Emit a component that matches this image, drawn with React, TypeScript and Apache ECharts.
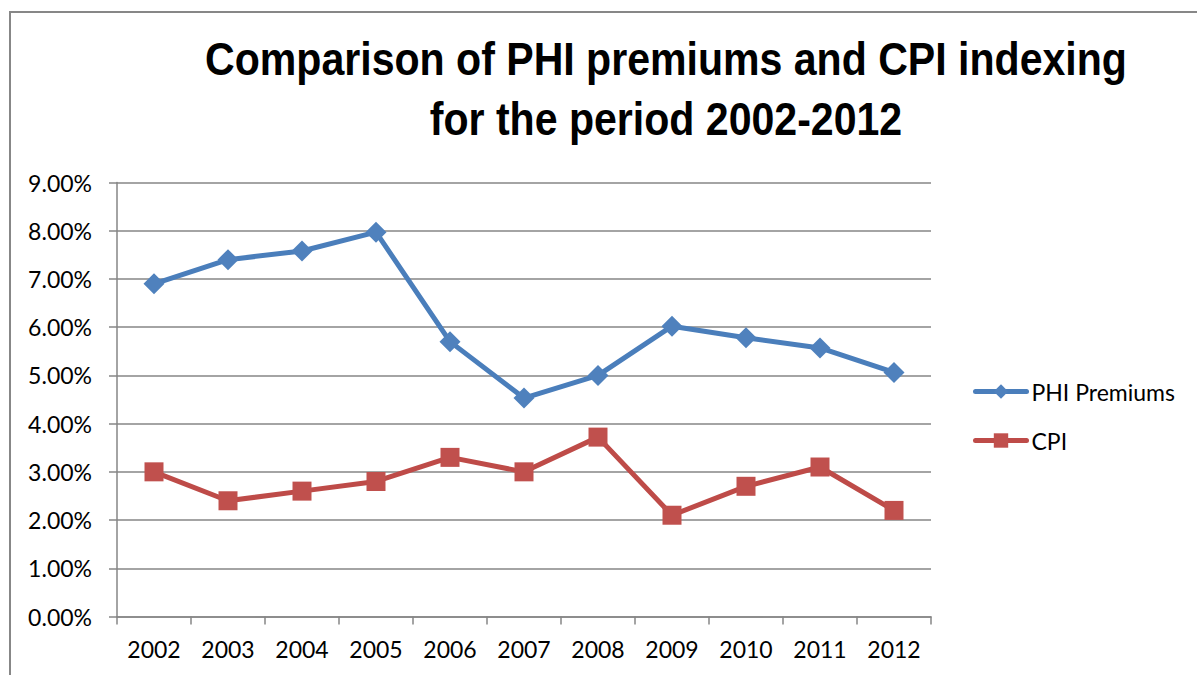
import React, { useEffect, useRef } from "react";
import * as echarts from "echarts";

const years = ["2002", "2003", "2004", "2005", "2006", "2007", "2008", "2009", "2010", "2011", "2012"];
const phiPremiums = [6.9, 7.4, 7.58, 7.97, 5.7, 4.53, 5.0, 6.02, 5.78, 5.57, 5.06];
const cpi = [3.0, 2.4, 2.6, 2.8, 3.3, 3.0, 3.72, 2.1, 2.7, 3.1, 2.2];
const titleLines = ["Comparison of PHI premiums and CPI indexing", "for the period 2002-2012"];

const BLUE = "#4A7EBB";
const RED = "#BE4B48";
const GRID_GRAY = "#868686";
const LABEL_FONT = "Lato, 'Open Sans', sans-serif";
const TITLE_FONT_FAMILY = "'Liberation Sans', Arial, sans-serif";
const TITLE_SIZE = 46;
const TITLE_WIDTH = 922; // rendered width of the first title line

// A narrow bold face is not installed, so the regular bold face is squeezed horizontally.
function titleSqueeze(): number {
  const ctx = document.createElement("canvas").getContext("2d");
  if (!ctx) return 0.82;
  ctx.font = `bold ${TITLE_SIZE}px ${TITLE_FONT_FAMILY}`;
  const w = ctx.measureText(titleLines[0]).width;
  return w > 0 ? TITLE_WIDTH / w : 0.82;
}

export default function App() {
  const ref = useRef<HTMLDivElement>(null);

  useEffect(() => {
    if (!ref.current) return;
    const chart = echarts.init(ref.current, undefined, { renderer: "svg" });
    const sx = titleSqueeze();
    chart.setOption({
      animation: false,
      backgroundColor: "#ffffff",
      graphic: [
        {
          type: "rect",
          shape: { x: 10, y: 12, width: 1300, height: 800 },
          style: { fill: "none", stroke: "#878787", lineWidth: 2 },
          silent: true,
        },
        {
          type: "text",
          x: 666,
          y: 29,
          scaleX: sx,
          style: {
            text: titleLines.join("\n"),
            textAlign: "center",
            textVerticalAlign: "top",
            fontFamily: TITLE_FONT_FAMILY,
            fontWeight: "bold",
            fontSize: TITLE_SIZE,
            lineHeight: 60,
            fill: "#000000",
          },
        },
      ],
      legend: {
        orient: "vertical",
        left: 973,
        top: 380,
        padding: 0,
        itemWidth: 51,
        itemHeight: 18,
        itemGap: 26,
        lineStyle: { width: 5, cap: "round" },
        textStyle: { fontFamily: LABEL_FONT, fontSize: 23, color: "#000000" },
        data: ["PHI Premiums", "CPI"],
      },
      grid: { left: 117, right: 266, top: 182.5, bottom: 58.5, containLabel: false },
      xAxis: {
        type: "category",
        data: years,
        boundaryGap: true,
        axisLine: { lineStyle: { color: GRID_GRAY, width: 1.5 } },
        axisTick: { show: true, length: 8, alignWithLabel: false, lineStyle: { color: GRID_GRAY, width: 1.5 } },
        axisLabel: { fontFamily: LABEL_FONT, fontSize: 23, color: "#000000", margin: 21 },
      },
      yAxis: {
        type: "value",
        min: 0,
        max: 9,
        interval: 1,
        axisLine: { show: true, lineStyle: { color: GRID_GRAY, width: 1.5 } },
        axisTick: { show: true, length: 8, lineStyle: { color: GRID_GRAY, width: 1.5 } },
        splitLine: { lineStyle: { color: GRID_GRAY, width: 1.5 } },
        axisLabel: {
          fontFamily: LABEL_FONT,
          fontSize: 23,
          color: "#000000",
          margin: 25,
          formatter: (v: number) => v.toFixed(2) + "%",
        },
      },
      series: [
        {
          name: "PHI Premiums",
          type: "line",
          data: phiPremiums,
          symbol: "diamond",
          symbolSize: 21,
          lineStyle: { color: BLUE, width: 5 },
          itemStyle: { color: "#4F81BD" },
        },
        {
          name: "CPI",
          type: "line",
          data: cpi,
          symbol: "rect",
          symbolSize: 19,
          lineStyle: { color: RED, width: 5 },
          itemStyle: { color: "#C0504D" },
        },
      ],
    });
    return () => chart.dispose();
  }, []);

  return (
    <div
      ref={ref}
      style={{ position: "fixed", left: 0, top: 0, width: 1197, height: 675, background: "#fff" }}
    />
  );
}
